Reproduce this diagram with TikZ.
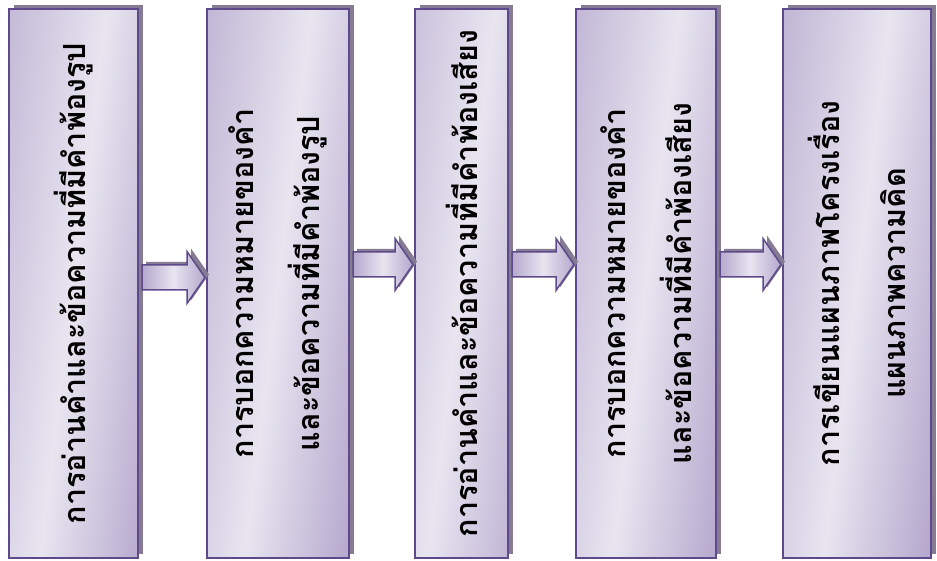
\documentclass[tikz,border=0pt]{standalone}
\usepackage{fontspec}
\newfontfamily\thaifont[Script=Thai]{Loma}
\usetikzlibrary{shadows,calc}
\definecolor{edgepurple}{HTML}{5E4A8A}
\definecolor{lightlav}{HTML}{E8E5F0}
\definecolor{darklav}{HTML}{B5A8CD}
\definecolor{darkerlav}{HTML}{A594C2}
\definecolor{shadowgray}{HTML}{857B92}
\pgfdeclarehorizontalshading{boxgrad}{100bp}{color(0bp)=(darklav); color(38.5bp)=(darklav);
  color(50bp)=(lightlav); color(61.5bp)=(darkerlav); color(100bp)=(darkerlav)}
\newcommand\flowarrow[3]{%
  \path[flowarr] let \p1=(#1.east), \p2=(#2.west) in
    (\x1+3pt, #3pt+12.5pt) -- (\x2-19pt, #3pt+12.5pt) -- (\x2-19pt, #3pt+26pt)
    -- (\x2-1pt, #3pt) -- (\x2-19pt, #3pt-26pt) -- (\x2-19pt, #3pt-12.5pt)
    -- (\x1+3pt, #3pt-12.5pt) -- cycle;}
\begin{document}
\begin{tikzpicture}[x=1pt,y=1pt,
  stepbox/.style={draw=edgepurple, line width=2pt, inner sep=0pt,
    general shadow={fill=shadowgray, shadow xshift=5pt, shadow yshift=4pt, opacity=1},
    path picture={\shade[shading=boxgrad, shading angle=-7]
      ($(path picture bounding box.center)+(-300pt,-300pt)$) rectangle
      ($(path picture bounding box.center)+(300pt,300pt)$);},
    minimum height=548pt},
  flowarr/.style={draw=edgepurple, line width=1.5pt, line join=miter,
    left color=darklav, right color=darklav, middle color=lightlav,
    general shadow={fill=shadowgray, shadow xshift=4pt, shadow yshift=3pt, opacity=1}},
  steptext/.style={rotate=90, align=center, text=black,
    font=\thaifont\bfseries\fontsize{30.5}{66}\selectfont}]
\useasboundingbox (0,0) rectangle (937,560);
\node[stepbox, minimum width=129pt] (b1) at (73.5,276.5) {};
\node[stepbox, minimum width=142pt] (b2) at (278,276.5) {};
\node[stepbox, minimum width=93pt]  (b3) at (461.5,276.5) {};
\node[stepbox, minimum width=140pt] (b4) at (646,276.5) {};
\node[stepbox, minimum width=148pt] (b5) at (857,276.5) {};
\node[steptext] (t1) at (b1.center) {การอ่านคำและข้อความที่มีคำพ้องรูป};
\node[steptext] (t2) at (b2.center) {การบอกความหมายของคำ\\และข้อความที่มีคำพ้องรูป};
\node[steptext] (t3) at (b3.center) {การอ่านคำและข้อความที่มีคำพ้องเสียง};
\node[steptext] (t4) at (b4.center) {การบอกความหมายของคำ\\และข้อความที่มีคำพ้องเสียง};
\node[steptext] (t5) at (b5.center) {การเขียนแผนภาพโครงเรื่อง\\แผนภาพความคิด};
\flowarrow{b1}{b2}{282.5}
\flowarrow{b2}{b3}{295.5}
\flowarrow{b3}{b4}{295.5}
\flowarrow{b4}{b5}{295.5}
\end{tikzpicture}
\end{document}
